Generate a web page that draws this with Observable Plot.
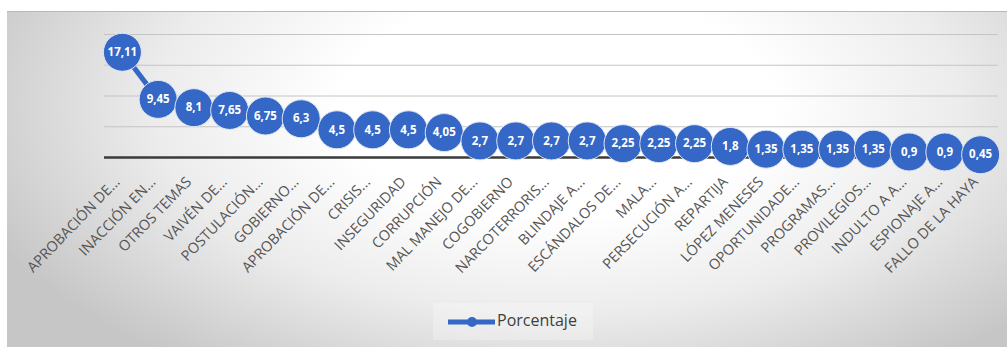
<!DOCTYPE html>
<html>
<head>
<meta charset="utf-8">
<script src="https://cdn.jsdelivr.net/npm/d3@7"></script>
<script src="https://cdn.jsdelivr.net/npm/@observablehq/plot@0.6"></script>
<style>
  html, body { margin: 0; padding: 0; background: #ffffff; }
  #wrap { position: relative; width: 1007px; height: 347px; overflow: hidden; background: #fff; font-family: "Open Sans", sans-serif; }
  #card { position: absolute; left: 7px; top: 11px; width: 1000px; height: 336px;
    border-top: 1px solid #b9b9b9;
    background: radial-gradient(ellipse 62% 95% at 55% 28%, #ffffff 35%, #ececec 65%, #c6c6c6 100%); }
  #chart { position: absolute; left: 0; top: 0; }
  #legend { position: absolute; left: 433px; top: 303px; width: 160px; height: 37px;
    background: rgba(255,255,255,0.25); }
  #legend svg { position: absolute; left: 15px; top: 10px; }
  #legend span { position: absolute; left: 64px; top: 6px; font-size: 16px; color: #404040; }
</style>
</head>
<body>
<div id="wrap">
  <div id="card"></div>
  <div id="chart"></div>
  <div id="legend">
    <svg width="48" height="18"><line x1="0" y1="9" x2="47" y2="9" stroke="#3567c6" stroke-width="5"/><circle cx="24" cy="9" r="5" fill="#3567c6"/></svg>
    <span>Porcentaje</span>
  </div>
</div>
<script>
const categories = [
  "APROBACIÓN DE...", "INACCIÓN EN...", "OTROS TEMAS", "VAIVÉN DE...", "POSTULACIÓN...",
  "GOBIERNO...", "APROBACIÓN DE...", "CRISIS...", "INSEGURIDAD", "CORRUPCIÓN",
  "MAL MANEJO DE...", "COGOBIERNO", "NARCOTERRORIS...", "BLINDAJE A...", "ESCÁNDALOS DE...",
  "MALA...", "PERSECUCIÓN A...", "REPARTIJA", "LÓPEZ MENESES", "OPORTUNIDADE...",
  "PROGRAMAS...", "PROVILEGIOS...", "INDULTO A A...", "ESPIONAJE A...", "FALLO DE LA HAYA"
];
const porcentaje = [
  17.11, 9.45, 8.1, 7.65, 6.75, 6.3, 4.5, 4.5, 4.5, 4.05,
  2.7, 2.7, 2.7, 2.7, 2.25, 2.25, 2.25, 1.8, 1.35, 1.35,
  1.35, 1.35, 0.9, 0.9, 0.45
];
const gridValues = [5, 10, 15, 20];

const data = categories.map((c, i) => ({i, cat: c, v: porcentaje[i], label: String(porcentaje[i]).replace(".", ",")}));
const blue = "#3567c6";

const chart = Plot.plot({
  width: 1007,
  height: 300,
  marginLeft: 104,
  marginRight: 9,
  marginTop: 34,
  marginBottom: 143,
  style: {background: "transparent", overflow: "visible"},
  x: {type: "linear", domain: [-0.5, categories.length - 0.5], axis: null},
  y: {domain: [0, 20], axis: null},
  marks: [
    Plot.ruleY(gridValues, {stroke: "#c4c4c4", strokeWidth: 1}),
    Plot.ruleY([0], {stroke: "#3a3a3a", strokeWidth: 2.5}),
    Plot.line(data, {x: "i", y: "v", stroke: blue, strokeWidth: 5}),
    Plot.dot(data, {x: "i", y: "v", r: 19, fill: blue, stroke: "#dfe6f3", strokeWidth: 1}),
    Plot.text(data, {x: "i", y: "v", text: "label", fill: "white", fontWeight: "bold", fontSize: 11.5, fontFamily: "Open Sans"}),
    Plot.text(data, {x: "i", y: 0, text: "cat", rotate: -46, textAnchor: "end", dx: -5, dy: 22,
      fontSize: 14.5, fill: "#555555", fontFamily: "Open Sans"})
  ]
});
document.getElementById("chart").appendChild(chart);
</script>
</body>
</html>
